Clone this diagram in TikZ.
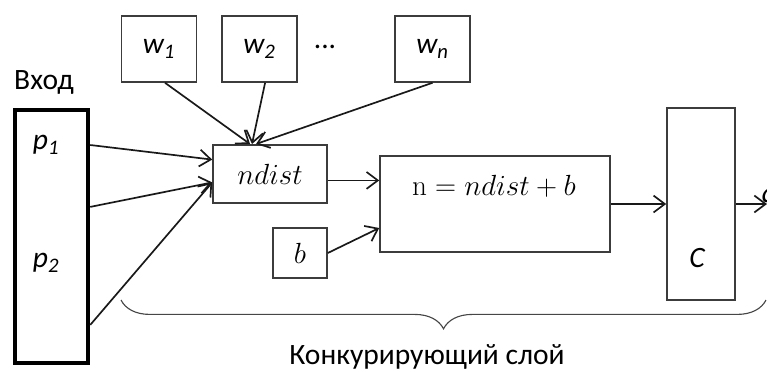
\documentclass[tikz,border=0pt]{standalone}
\usepackage[no-math]{fontspec}
\setmainfont{Carlito}
\usetikzlibrary{arrows.meta, positioning, calc, decorations.pathreplacing}
\definecolor{boxgray}{RGB}{60, 60, 60}
\definecolor{linegray}{RGB}{25, 25, 25}
\definecolor{bracegray}{RGB}{70, 70, 70}

\begin{document}
\begin{tikzpicture}[x=0.025cm, y=-0.025cm,
    arrow/.style={-{Straight Barb[length=8pt, width=12pt]}, line width=1.2pt, draw=linegray},
    inbox/.style={rectangle, draw=black, line width=3pt,
        minimum width=1.83cm, minimum height=6.33cm},
    wbox/.style={rectangle, draw=boxgray, line width=1.1pt,
        minimum width=1.88cm, minimum height=1.65cm,
        font=\fontsize{21}{25}\selectfont\itshape},
    mathbox/.style={rectangle, draw=boxgray, line width=1.1pt,
        font=\fontsize{22}{26}\selectfont},
    tagtext/.style={font=\fontsize{21}{25}\selectfont},
    itext/.style={font=\fontsize{21}{25}\selectfont\itshape},
    bracepath/.style={decorate, decoration={brace, mirror, amplitude=0.72cm},
        line width=0.8pt, draw=bracegray}
]

% === Canvas ===
\useasboundingbox (0, 0) rectangle (767, 371);

% === Layout constants ===
\def\wy{49}
\def\midy{204}

% === Input ===
\node[inbox] (in) at (51.5, 236.5) {};
\node[tagtext] (inlabel) at (44, 82) {Вход};
\node[itext] (p1) at (46, 145) {p\textsubscript{1}};
\node[itext] (p2) at (46, 263) {p\textsubscript{2}};

% === Weights ===
\node[wbox] (w1) at (159, \wy) {w\textsubscript{1}};
\node[wbox] (w2) at (259.5, \wy) {w\textsubscript{2}};
\node[tagtext] (dots) at (325, 47) {...};
\node[wbox] (wn) at (432.5, \wy) {w\textsubscript{n}};

% === Distance, bias, sum ===
\node[mathbox, minimum width=2.85cm, minimum height=1.46cm] (ndist) at (270, 174) {$ndist$};
\node[mathbox, minimum width=1.35cm, minimum height=1.25cm] (b) at (300, 253) {$b$};
\node[mathbox, minimum width=5.75cm, minimum height=2.4cm] (n) at (495, \midy) {};
\node[font=\fontsize{22}{26}\selectfont] (ntext) at (494, 186) {$\mathrm{n} = ndist + b$};

% === Competitive block ===
\node[wbox, minimum width=1.7cm, minimum height=4.8cm] (c) at (701, \midy) {};
\node[itext] (ctext) at (697, 258) {C};
\coordinate (out) at (767, \midy);
\node[itext, anchor=west] (a) at (757, 195) {a};

% === Arrows: input -> ndist ===
\draw[arrow] (in.east |- p1) -- ([yshift=0.36cm]ndist.west);
\draw[arrow] ([yshift=0.74cm]in.east) -- ([yshift=-0.21cm]ndist.west);
\draw[arrow] ([yshift=-2.21cm]in.east) -- ([yshift=-0.21cm]ndist.west);

% === Arrows: weights -> ndist ===
\draw[arrow] ([xshift=0.15cm]w1.south) -- ([xshift=-0.5cm]ndist.north);
\draw[arrow] ([xshift=0.14cm]w2.south) -- ([xshift=-0.45cm]ndist.north);
\draw[arrow] (wn.south) -- ([xshift=-0.35cm]ndist.north);

% === Arrows: ndist, b -> n -> C -> out ===
\draw[arrow] ([yshift=-0.16cm]ndist.east) -- ([yshift=-0.16cm]ndist.east -| n.west);
\draw[arrow] (b.east) -- ([yshift=-0.6cm]n.west);
\draw[arrow] (n.east) -- (c.west);
\draw[arrow] (c.east) -- (out);

% === Brace ===
\coordinate (brl) at (121, 300);
\coordinate (brr) at (766, 300);
\draw[bracepath] (brl) -- (brr);
\node[tagtext] (layer) at (427, 357) {Конкурирующий слой};

\end{tikzpicture}
\end{document}
